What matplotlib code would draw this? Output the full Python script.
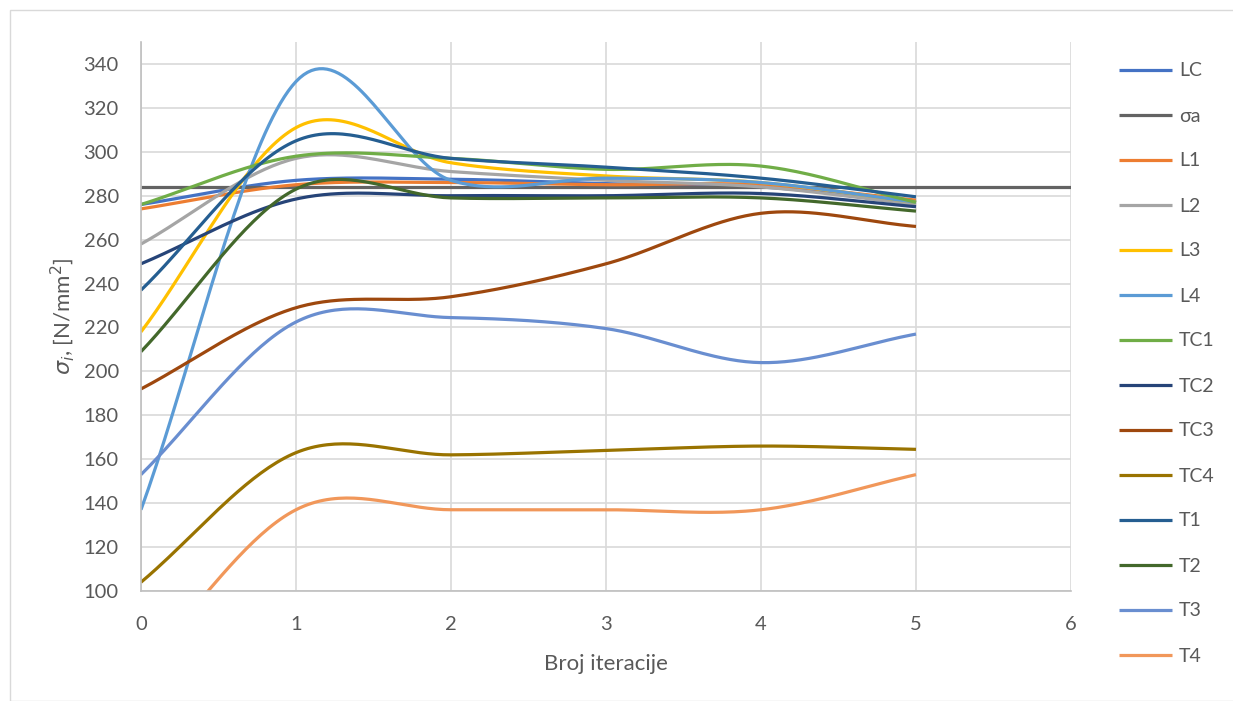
import numpy as np
import matplotlib
matplotlib.use('Agg')
import matplotlib.pyplot as plt
from matplotlib.patches import Rectangle

# ── DATA ──────────────────────────────────────────────────────
iterations = [0, 1, 2, 3, 4, 5]
sigma_a_x = [0, 6]
sigma_a = [284, 284]

LC = [276, 287, 287.5, 285.5, 284, 277]
L1 = [274, 285, 286, 285, 285, 278]
L2 = [258, 297, 291, 287, 284, 276]
L3 = [218, 311, 295, 289, 286, 277]
L4 = [137, 332, 287, 288, 286, 277]
TC1 = [276, 298, 297, 292, 293.5, 277]
TC2 = [249, 278.5, 280, 280, 281, 275]
TC3 = [192, 229, 234, 249, 272, 266]
TC4 = [104, 163, 162, 164, 166, 164.5]
T1 = [237, 305, 297, 293, 288, 279.5]
T2 = [209, 283, 279, 279, 279, 273]
T3 = [153, 222.5, 224.5, 219.5, 204, 217]
T4 = [65, 137, 137, 137, 137, 153]

series = [
    ('LC', LC, '#4472C4'),
    ('σa', None, '#636363'),
    ('L1', L1, '#ED7D31'),
    ('L2', L2, '#A5A5A5'),
    ('L3', L3, '#FFC000'),
    ('L4', L4, '#5B9BD5'),
    ('TC1', TC1, '#70AD47'),
    ('TC2', TC2, '#264478'),
    ('TC3', TC3, '#9E480E'),
    ('TC4', TC4, '#997300'),
    ('T1', T1, '#255E91'),
    ('T2', T2, '#43682B'),
    ('T3', T3, '#698ED0'),
    ('T4', T4, '#F1975A'),
]

# ── SMOOTHING (Excel-like Catmull-Rom) ────────────────────────

def smooth(x, y, n=40):
    x = np.asarray(x, float)
    y = np.asarray(y, float)
    # linear extrapolation for the end tangents
    yp = np.concatenate([[2 * y[0] - y[1]], y, [2 * y[-1] - y[-2]]])
    xs, ys = [], []
    for i in range(len(x) - 1):
        p0, p1 = yp[i + 1], yp[i + 2]
        m0 = (yp[i + 2] - yp[i]) / 2
        m1 = (yp[i + 3] - yp[i + 1]) / 2
        t = np.linspace(0, 1, n, endpoint=(i == len(x) - 2))
        h00 = 2 * t**3 - 3 * t**2 + 1
        h10 = t**3 - 2 * t**2 + t
        h01 = -2 * t**3 + 3 * t**2
        h11 = t**3 - t**2
        xs.append(x[i] + t * (x[i + 1] - x[i]))
        ys.append(h00 * p0 + h10 * m0 + h01 * p1 + h11 * m1)
    return np.concatenate(xs), np.concatenate(ys)


plt.rcParams['font.family'] = ['Lato', 'DejaVu Sans']
grey = '#595959'

fig = plt.figure(figsize=(12.33, 7.01), dpi=100)
ax = fig.add_axes([141 / 1233, 1 - 591 / 701, 930 / 1233, 549 / 701])

for name, vals, col in series:
    if vals is None:
        ax.plot(sigma_a_x, sigma_a, color=col, lw=2.3, label=name, solid_capstyle='butt')
    else:
        sx, sy = smooth(iterations, vals)
        ax.plot(sx, sy, color=col, lw=2.3, label=name, solid_capstyle='butt')

ax.set_xlim(0, 6)
ax.set_ylim(100, 350)
ax.set_xticks(range(0, 7))
ax.set_yticks(range(100, 341, 20))
ax.grid(True, color='#D9D9D9', lw=1.2)
ax.set_axisbelow(True)
for s in ['top', 'right']:
    ax.spines[s].set_visible(False)
for s in ['left', 'bottom']:
    ax.spines[s].set_color('#BFBFBF')
    ax.spines[s].set_linewidth(1.2)
ax.tick_params(length=0, labelsize=14.5, colors=grey)
ax.tick_params(axis='y', pad=16)
ax.tick_params(axis='x', pad=18)
ax.set_xlabel('Broj iteracije', fontsize=16, color=grey, labelpad=15)
ax.set_ylabel(r'$\sigma_i$, [N/mm$^2$]', fontsize=16, color=grey, labelpad=5)

fig.legend(loc='upper left', bbox_to_anchor=(1101 / 1233, 1 - 45 / 701),
           frameon=False, fontsize=14, labelcolor=grey, handlelength=2.75,
           labelspacing=1.44, handletextpad=0.35)

fig.patches.append(Rectangle((10 / 1233, 0), 1, 1 - 10 / 701, transform=fig.transFigure,
                             fill=False, edgecolor='#D9D9D9', lw=1.0))

plt.savefig('out.png', dpi=100)
